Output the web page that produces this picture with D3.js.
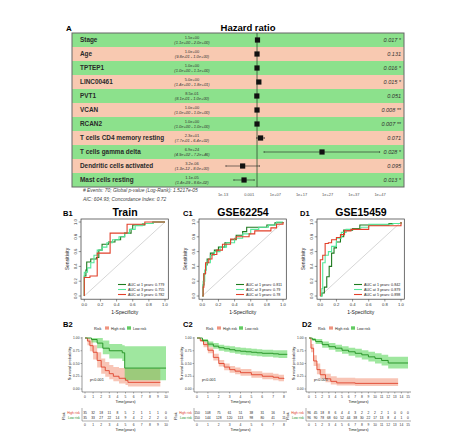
<!DOCTYPE html>
<html><head><meta charset="utf-8">
<script src="https://cdn.jsdelivr.net/npm/d3@7"></script>
<style>body{margin:0;background:#fff}svg{display:block;font-family:"Liberation Sans",Arial,sans-serif}</style>
</head><body><script>
// ---------------- data ----------------
const forestNames = ["Stage","Age","TPTEP1","LINC00461","PVT1","VCAN","RCAN2","T cells CD4 memory resting","T cells gamma delta","Dendritic cells activated","Mast cells resting"];
const forestHR   = [1.5, 1.0, 1.0, 5.0, 0.85, 1.0, 1.0, 23, 6.9e24, 3.2e-6, 1.1e-5];
const forestLow  = [1.1, 0.98, 1.0, 1.4, 0.81, 1.0, 1.0, 0.77, 490, 1.3e-12, 1.4e-9];
const forestHigh = [2.0, 1.0, 1.1, 18, 1.0, 1.0, 1.0, 640, 7.2e46, 8.0, 0.086];
const forestHRText = ["1.5e+00","1.0e+00","1.0e+00","5.0e+00","8.5e-01","1.0e+00","1.0e+00","2.3e+01","6.9e+24","3.2e-06","1.1e-05"];
const forestCIText = ["(1.1e+00 - 2.0e+00)","(9.8e-01 - 1.0e+00)","(1.0e+00 - 1.1e+00)","(1.4e+00 - 1.8e+01)","(8.1e-01 - 1.0e+00)","(1.0e+00 - 1.0e+00)","(1.0e+00 - 1.0e+00)","(7.7e-01 - 6.4e+02)","(4.9e+02 - 7.2e+46)","(1.3e-12 - 8.0e+00)","(1.4e-09 - 8.6e-02)"];
const forestP = ["0.017 *","0.131","0.016 *","0.015 *","0.051","0.008 **","0.007 **","0.071","0.028 *","0.095","0.013 *"];
const forestTicks = [1e-13,1e-3,1e7,1e17,1e27,1e37,1e47];
const forestTickLabels = ["1e-13","0.001","1e+07","1e+17","1e+27","1e+37","1e+47"];
const forestNotes = ["# Events: 70; Global p-value (Log-Rank): 1.5217e-05","AIC: 604.93; Concordance Index: 0.72"];

const rocTicks = [0,0.2,0.4,0.6,0.8,1.0];
const rocYears = ["1 years","3 years","5 years"];
// ROC curves: [1-specificity, sensitivity]
const rocTrain1 = [[0,0],[0,0.27],[0.02,0.35],[0.03,0.46],[0.08,0.5],[0.15,0.52],[0.18,0.62],[0.22,0.7],[0.3,0.73],[0.38,0.76],[0.45,0.8],[0.5,0.85],[0.58,0.9],[0.6,0.96],[0.75,0.98],[0.85,1],[1,1]];
const rocTrain3 = [[0,0],[0,0.32],[0.04,0.38],[0.08,0.45],[0.12,0.55],[0.16,0.62],[0.22,0.66],[0.28,0.72],[0.35,0.76],[0.43,0.8],[0.5,0.85],[0.56,0.9],[0.63,0.95],[0.72,0.98],[0.85,1],[1,1]];
const rocTrain5 = [[0,0],[0,0.25],[0.07,0.27],[0.16,0.58],[0.32,0.85],[0.53,0.97],[0.75,1],[1,1]];
const rocTrainAUC = ["0.779","0.755","0.782"];
const rocG62_1 = [[0,0],[0.01,0.15],[0.02,0.3],[0.04,0.42],[0.06,0.5],[0.1,0.58],[0.15,0.62],[0.2,0.66],[0.28,0.72],[0.35,0.76],[0.42,0.82],[0.5,0.87],[0.55,0.93],[0.7,0.93],[0.8,0.96],[0.9,0.99],[1,1]];
const rocG62_3 = [[0,0],[0.01,0.2],[0.03,0.35],[0.05,0.45],[0.1,0.55],[0.15,0.6],[0.22,0.66],[0.3,0.72],[0.4,0.78],[0.5,0.84],[0.6,0.9],[0.7,0.93],[0.82,0.96],[0.92,1],[1,1]];
const rocG62_5 = [[0,0],[0.01,0.12],[0.02,0.3],[0.04,0.45],[0.08,0.5],[0.12,0.56],[0.18,0.62],[0.25,0.7],[0.35,0.77],[0.42,0.8],[0.5,0.8],[0.58,0.84],[0.65,0.88],[0.75,0.88],[0.85,0.92],[0.92,0.97],[1,1]];
const rocG62AUC = ["0.811","0.79","0.78"];
const rocG15_1 = [[0,0],[0.02,0.04],[0.05,0.12],[0.08,0.26],[0.11,0.4],[0.14,0.58],[0.17,0.65],[0.2,0.73],[0.25,0.8],[0.29,0.89],[0.4,0.91],[0.49,0.96],[0.85,0.98],[1,1]];
const rocG15_3 = [[0,0],[0.02,0.1],[0.03,0.45],[0.06,0.55],[0.1,0.6],[0.14,0.67],[0.2,0.78],[0.26,0.86],[0.32,0.9],[0.5,0.93],[0.6,0.97],[0.9,0.98],[1,1]];
const rocG15_5 = [[0,0],[0,0.49],[0.03,0.55],[0.06,0.71],[0.1,0.72],[0.14,0.76],[0.2,0.79],[0.25,0.83],[0.3,0.88],[0.38,0.9],[0.5,0.9],[0.6,0.95],[0.95,0.95],[1,1]];
const rocG15AUC = ["0.842","0.879","0.898"];

// KM curves: [time, survival, lower, upper]
const kmTrainHigh = [[0,1,1,1],[0.3,0.94,0.86,1],[0.6,0.85,0.74,0.97],[1,0.72,0.58,0.86],[1.5,0.56,0.42,0.72],[2,0.43,0.3,0.6],[2.5,0.36,0.24,0.53],[3,0.3,0.19,0.47],[3.5,0.25,0.15,0.43],[4.2,0.21,0.11,0.41],[5,0.17,0.08,0.4],[5.3,0.13,0.05,0.4],[9.3,0.13,0.05,0.4]];
const kmTrainLow = [[0,1,1,1],[0.8,0.97,0.91,1],[1.5,0.9,0.8,1],[2.2,0.8,0.68,0.95],[3,0.75,0.6,0.88],[4.6,0.71,0.55,0.86],[4.9,0.41,0.17,0.84],[10,0.41,0.17,0.84]];
const kmG62High = [[0,1,1,1],[0.3,0.95,0.92,0.98],[0.6,0.87,0.82,0.92],[1,0.76,0.7,0.82],[1.5,0.62,0.56,0.69],[2,0.5,0.44,0.57],[2.5,0.43,0.37,0.5],[3,0.38,0.32,0.45],[3.5,0.35,0.29,0.42],[4,0.32,0.26,0.39],[5,0.28,0.22,0.35],[6,0.25,0.19,0.32],[7,0.23,0.17,0.3],[7.5,0.21,0.15,0.28],[8,0.2,0.14,0.27]];
const kmG62Low = [[0,1,1,1],[0.5,0.95,0.92,0.98],[1,0.88,0.83,0.93],[1.5,0.84,0.79,0.9],[2,0.81,0.75,0.87],[2.5,0.79,0.73,0.85],[3,0.77,0.71,0.84],[3.5,0.75,0.69,0.82],[4,0.74,0.67,0.81],[4.5,0.73,0.66,0.8],[5,0.72,0.65,0.79],[5.5,0.71,0.64,0.78],[6,0.7,0.63,0.77],[7,0.69,0.62,0.76],[7.5,0.68,0.61,0.76],[8.3,0.68,0.61,0.76]];
const kmG15High = [[0,1,1,1],[0.3,0.8,0.72,0.88],[0.7,0.55,0.45,0.66],[1.2,0.38,0.29,0.5],[1.7,0.28,0.2,0.39],[2.5,0.2,0.13,0.3],[3.3,0.15,0.09,0.25],[4.2,0.12,0.07,0.22],[7,0.11,0.06,0.21],[13.5,0.11,0.06,0.21]];
const kmG15Low = [[0,1,1,1],[0.5,0.97,0.94,1],[1,0.93,0.88,0.98],[2,0.87,0.81,0.93],[3,0.83,0.77,0.9],[4,0.8,0.73,0.87],[5,0.76,0.69,0.84],[6,0.73,0.65,0.81],[7,0.7,0.62,0.79],[8,0.67,0.58,0.76],[9,0.63,0.54,0.73],[10,0.6,0.5,0.7],[11,0.56,0.46,0.67],[12,0.51,0.4,0.63],[15,0.51,0.4,0.63]];
const riskGroups = ["High risk","Low risk"];
const riskTrainHigh = [35,32,18,11,8,5,2,1,1,1,0];
const riskTrainLow  = [35,33,27,22,14,9,4,2,2,2,0];
const riskG62High = [150,108,75,61,51,38,31,16,3];
const riskG62Low  = [150,144,128,120,113,98,80,41,11];
const riskG15High = [96,45,18,8,6,4,4,3,2,2,2,2,1,0,0,0];
const riskG15Low  = [96,90,78,68,60,52,44,38,30,22,17,13,8,4,1,0];

// ---------------- drawing ----------------
const W = 474, H = 435;
const svg = d3.select("body").append("svg").attr("width", W).attr("height", H);
const GREEN_ROW = "#8ce18c", SALMON_ROW = "#f8c9b1";

// ---- Panel A: forest plot ----
svg.append("text").attr("x", 66).attr("y", 31).attr("font-size", 8).attr("font-weight", "bold").text("A");
svg.append("text").attr("x", 248).attr("y", 30.5).attr("text-anchor", "middle").attr("font-size", 9.5).attr("font-weight", "bold").text("Hazard ratio");
const fL = 72, fR = 404, fTop = 33, rowH = 14;
const fy = d3.scaleBand().domain(d3.range(forestNames.length)).range([fTop, fTop + rowH * forestNames.length]);
const fx = d3.scaleLog().domain([forestTicks[0], forestTicks[forestTicks.length - 1]]).range([223, 380]);
const fg = svg.append("g");
fg.selectAll("rect.row").data(forestNames).join("rect")
  .attr("x", fL).attr("y", (d, i) => fy(i)).attr("width", fR - fL).attr("height", fy.bandwidth())
  .attr("fill", (d, i) => i % 2 === 0 ? GREEN_ROW : SALMON_ROW);
fg.append("rect").attr("x", fL).attr("y", fTop).attr("width", fR - fL).attr("height", rowH * forestNames.length)
  .attr("fill", "none").attr("stroke", "#666").attr("stroke-width", 1);
fg.selectAll("text.name").data(forestNames).join("text")
  .attr("x", 80).attr("y", (d, i) => fy(i) + rowH / 2 + 2.2).attr("font-size", 6.4).attr("font-weight", "bold").attr("fill", "#2a2a2a").text(d => d);
fg.selectAll("text.hr").data(forestHRText).join("text")
  .attr("x", 192).attr("y", (d, i) => fy(i) + rowH / 2 - 0.7).attr("text-anchor", "middle").attr("font-size", 4).attr("fill", "#333").text(d => d);
fg.selectAll("text.ci").data(forestCIText).join("text")
  .attr("x", 192).attr("y", (d, i) => fy(i) + rowH / 2 + 3.9).attr("text-anchor", "middle").attr("font-size", 4).attr("font-style", "italic").attr("fill", "#333").text(d => d);
fg.append("line").attr("x1", fx(1)).attr("x2", fx(1)).attr("y1", fTop).attr("y2", fTop + rowH * forestNames.length)
  .attr("stroke", "#2f4f2f").attr("stroke-width", 0.8);
forestNames.forEach((n, i) => {
  const cy = fy(i) + rowH / 2;
  const x1 = fx(forestLow[i]), x2 = fx(forestHigh[i]);
  fg.append("line").attr("x1", x1).attr("x2", x2).attr("y1", cy).attr("y2", cy).attr("stroke", "#222").attr("stroke-width", 0.6);
  if (x2 - x1 > 3) {
    [x1, x2].forEach(x => fg.append("line").attr("x1", x).attr("x2", x).attr("y1", cy - 1).attr("y2", cy + 1).attr("stroke", "#222").attr("stroke-width", 0.5));
  }
  fg.append("rect").attr("x", fx(forestHR[i]) - 2.6).attr("y", cy - 2.6).attr("width", 5.2).attr("height", 5.2).attr("fill", "#111");
});
fg.selectAll("text.p").data(forestP).join("text")
  .attr("x", 401).attr("y", (d, i) => fy(i) + rowH / 2 + 2).attr("text-anchor", "end").attr("font-size", 5.5).attr("font-style", "italic").attr("fill", "#333").text(d => d);
fg.selectAll("text.tick").data(forestTicks).join("text")
  .attr("x", d => fx(d)).attr("y", 195.5).attr("text-anchor", "middle").attr("font-size", 4).attr("fill", "#555").text((d, i) => forestTickLabels[i]);
forestNotes.forEach((t, i) => fg.append("text").attr("x", 83).attr("y", 192 + i * 9).attr("font-size", 4.9).attr("font-style", "italic").attr("fill", "#444").text(t));

// ---- ROC panels ----
const ROC_COLORS = ["#1f7a1f", "#55e89a", "#e2402a"];
function drawRoc(x0, label, labelX, title, curves, aucs) {
  const g = svg.append("g");
  const xs = d3.scaleLinear().domain([0, 1]).range([x0 + 3.3, x0 + 84]);
  const ys = d3.scaleLinear().domain([0, 1]).range([296, 222]);
  g.append("text").attr("x", labelX).attr("y", 216).attr("font-size", 7.5).attr("font-weight", "bold").text(label);
  g.append("text").attr("x", x0 + 44).attr("y", 216).attr("text-anchor", "middle").attr("font-size", 10.5).attr("font-weight", "bold").text(title);
  g.append("rect").attr("x", x0).attr("y", 219).attr("width", 87.3).attr("height", 80.2).attr("fill", "none").attr("stroke", "#333").attr("stroke-width", 0.7);
  g.append("line").attr("x1", xs(0)).attr("y1", ys(0)).attr("x2", xs(1)).attr("y2", ys(1)).attr("stroke", "#bbb").attr("stroke-width", 0.6);
  const line = d3.line().x(d => xs(d[0])).y(d => ys(d[1])).curve(d3.curveStepAfter);
  curves.forEach((c, i) => g.append("path").attr("d", line(c)).attr("fill", "none").attr("stroke", ROC_COLORS[i]).attr("stroke-width", 1.1));
  rocTicks.forEach(t => {
    g.append("line").attr("x1", xs(t)).attr("x2", xs(t)).attr("y1", 299.2).attr("y2", 301.5).attr("stroke", "#333").attr("stroke-width", 0.5);
    g.append("text").attr("x", xs(t)).attr("y", 306).attr("text-anchor", "middle").attr("font-size", 4.2).attr("fill", "#333").text(t.toFixed(1));
    g.append("line").attr("x1", x0 - 2.3).attr("x2", x0).attr("y1", ys(t)).attr("y2", ys(t)).attr("stroke", "#333").attr("stroke-width", 0.5);
    g.append("text").attr("transform", `translate(${x0 - 4},${ys(t)}) rotate(-90)`).attr("text-anchor", "middle").attr("font-size", 4.2).attr("fill", "#333").text(t.toFixed(1));
  });
  g.append("text").attr("x", xs(0.5)).attr("y", 314).attr("text-anchor", "middle").attr("font-size", 5).attr("fill", "#222").text("1-Specificity");
  g.append("text").attr("transform", `translate(${x0 - 12},${ys(0.5)}) rotate(-90)`).attr("text-anchor", "middle").attr("font-size", 5).attr("fill", "#222").text("Sensitivity");
  aucs.forEach((a, i) => {
    const yy = 284.5 + i * 5;
    g.append("line").attr("x1", x0 + 37).attr("x2", x0 + 45).attr("y1", yy).attr("y2", yy).attr("stroke", ROC_COLORS[i]).attr("stroke-width", 1.1);
    g.append("text").attr("x", x0 + 47).attr("y", yy + 1.3).attr("font-size", 3.7).attr("fill", "#222").text(`AUC at ${rocYears[i]}: ${a}`);
  });
}
drawRoc(81, "B1", 63, "Train", [rocTrain1, rocTrain3, rocTrain5], rocTrainAUC);
drawRoc(199, "C1", 183, "GSE62254", [rocG62_1, rocG62_3, rocG62_5], rocG62AUC);
drawRoc(317, "D1", 300, "GSE15459", [rocG15_1, rocG15_3, rocG15_5], rocG15AUC);

// ---- KM panels ----
const KM_RED = "#e0442c", KM_GREEN = "#1f8f1f";
const BAND_RED = "#f2957a", BAND_GREEN = "#3fd03f";
function drawKM(label, labelX, axisX, x0px, x1px, tmax, high, low, rHigh, rLow) {
  const g = svg.append("g");
  const xs = d3.scaleLinear().domain([0, tmax]).range([x0px, x1px]);
  const ys = d3.scaleLinear().domain([0, 1]).range([389, 338]);
  g.append("text").attr("x", labelX).attr("y", 327).attr("font-size", 7.5).attr("font-weight", "bold").text(label);
  let lx = x0px + 9;
  g.append("text").attr("x", lx).attr("y", 329.5).attr("font-size", 3.8).attr("fill", "#222").text("Risk");
  [[KM_RED, BAND_RED, riskGroups[0]], [KM_GREEN, BAND_GREEN, riskGroups[1]]].forEach((c, i) => {
    const sx = lx + 11 + i * 22;
    g.append("rect").attr("x", sx).attr("y", 326).attr("width", 4).attr("height", 4).attr("fill", c[1]).attr("opacity", 0.6);
    g.append("line").attr("x1", sx).attr("x2", sx + 4).attr("y1", 328).attr("y2", 328).attr("stroke", c[0]).attr("stroke-width", 0.7);
    g.append("text").attr("x", sx + 6).attr("y", 329.5).attr("font-size", 3.6).attr("fill", "#222").text(c[2]);
  });
  const area = d3.area().x(d => xs(d[0])).y0(d => ys(d[2])).y1(d => ys(d[3])).curve(d3.curveStepAfter);
  const line = d3.line().x(d => xs(d[0])).y(d => ys(d[1])).curve(d3.curveStepAfter);
  g.append("path").attr("d", area(high)).attr("fill", BAND_RED).attr("opacity", 0.55);
  g.append("path").attr("d", area(low)).attr("fill", BAND_GREEN).attr("opacity", 0.5);
  g.append("path").attr("d", line(high)).attr("fill", "none").attr("stroke", KM_RED).attr("stroke-width", 0.9);
  g.append("path").attr("d", line(low)).attr("fill", "none").attr("stroke", KM_GREEN).attr("stroke-width", 0.9);
  g.append("line").attr("x1", axisX).attr("x2", axisX).attr("y1", ys(1) - 1).attr("y2", 392).attr("stroke", "#333").attr("stroke-width", 0.5);
  g.append("line").attr("x1", axisX).attr("x2", xs(tmax) + 3).attr("y1", 392).attr("y2", 392).attr("stroke", "#333").attr("stroke-width", 0.5);
  [0, 0.25, 0.5, 0.75, 1].forEach(t => {
    g.append("line").attr("x1", axisX - 1.5).attr("x2", axisX).attr("y1", ys(t)).attr("y2", ys(t)).attr("stroke", "#333").attr("stroke-width", 0.4);
    g.append("text").attr("x", axisX - 2.5).attr("y", ys(t) + 1.2).attr("text-anchor", "end").attr("font-size", 3.3).attr("fill", "#333").text(t.toFixed(2));
  });
  g.append("text").attr("transform", `translate(${axisX - 11},${ys(0.5)}) rotate(-90)`).attr("text-anchor", "middle").attr("font-size", 4).attr("fill", "#222").text("Survival probability");
  const ticks = d3.range(0, tmax + 1);
  ticks.forEach(t => {
    g.append("line").attr("x1", xs(t)).attr("x2", xs(t)).attr("y1", 392).attr("y2", 393.5).attr("stroke", "#333").attr("stroke-width", 0.4);
    g.append("text").attr("x", xs(t)).attr("y", 397.5).attr("text-anchor", "middle").attr("font-size", 3.3).attr("fill", "#333").text(t);
  });
  g.append("text").attr("x", (x0px + xs(tmax)) / 2).attr("y", 403).attr("text-anchor", "middle").attr("font-size", 3.8).attr("fill", "#222").text("Time(years)");
  g.append("text").attr("x", x0px + 5).attr("y", 381).attr("font-size", 3.8).attr("fill", "#222").text("p<0.001");
  [[rHigh, KM_RED], [rLow, KM_GREEN]].forEach((r, i) => {
    const yy = 413.5 + i * 5;
    g.append("text").attr("x", axisX - 2).attr("y", yy).attr("text-anchor", "end").attr("font-size", 3.3).attr("fill", r[1]).text(riskGroups[i]);
    r[0].forEach((v, k) => g.append("text").attr("x", xs(k)).attr("y", yy).attr("text-anchor", "middle").attr("font-size", 3.3).attr("fill", "#222").text(v));
  });
  g.append("text").attr("transform", `translate(${axisX - 17},${416}) rotate(-90)`).attr("text-anchor", "middle").attr("font-size", 3.8).attr("fill", "#222").text("Risk");
  g.append("line").attr("x1", axisX).attr("x2", axisX).attr("y1", 408).attr("y2", 421).attr("stroke", "#333").attr("stroke-width", 0.4);
  g.append("line").attr("x1", axisX).attr("x2", xs(tmax) + 3).attr("y1", 421).attr("y2", 421).attr("stroke", "#333").attr("stroke-width", 0.4);
  ticks.forEach(t => g.append("text").attr("x", xs(t)).attr("y", 425.5).attr("text-anchor", "middle").attr("font-size", 3.3).attr("fill", "#333").text(t));
  g.append("text").attr("x", (x0px + xs(tmax)) / 2).attr("y", 431).attr("text-anchor", "middle").attr("font-size", 3.8).attr("fill", "#222").text("Time(years)");
}
drawKM("B2", 63, 82, 85, 166, 10, kmTrainHigh, kmTrainLow, riskTrainHigh, riskTrainLow);
drawKM("C2", 183, 194, 197, 284, 8, kmG62High, kmG62Low, riskG62High, riskG62Low);
drawKM("D2", 302, 306, 309, 408, 15, kmG15High, kmG15Low, riskG15High, riskG15Low);
</script></body></html>
